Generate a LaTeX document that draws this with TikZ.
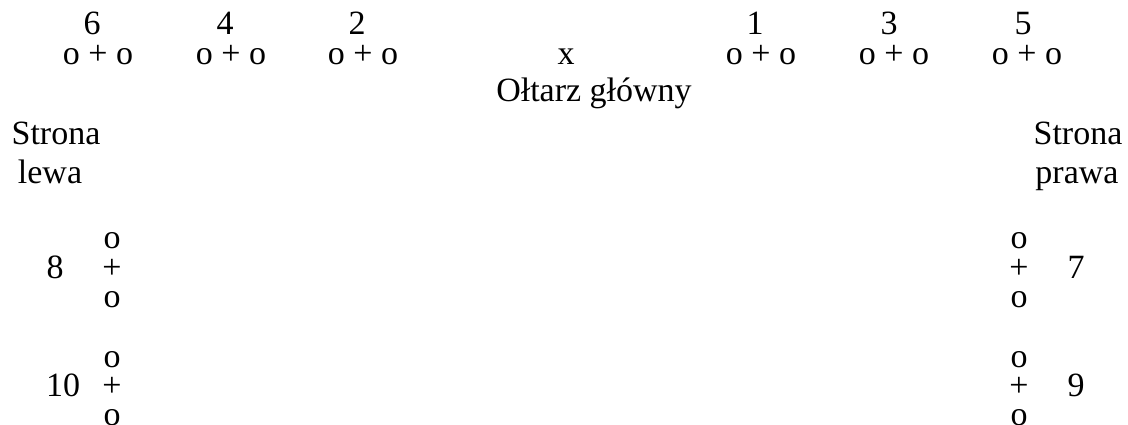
\documentclass[tikz,border=0pt]{standalone}
\usepackage{fontspec}
\setmainfont{Liberation Serif}
\begin{document}
\begin{tikzpicture}[x=1pt,y=-1pt,
  txt/.style={inner sep=0pt,outer sep=0pt,anchor=base,font=\fontsize{34}{40}\selectfont}]
\useasboundingbox (0,0) rectangle (1128,425);
% top row numbers
\node[txt] (n6) at (92,35) {6};
\node[txt] (n4) at (225,35) {4};
\node[txt] (n2) at (357,35) {2};
\node[txt] (n1) at (755,35) {1};
\node[txt] (n3) at (889,35) {3};
\node[txt] (n5) at (1023,35) {5};
% top row seats
\node[txt] (s6) at (98,65) {o + o};
\node[txt] (s4) at (231,65) {o + o};
\node[txt] (s2) at (363,65) {o + o};
\node[txt] (sx) at (566,65) {x};
\node[txt] (s1) at (761,65) {o + o};
\node[txt] (s3) at (894,65) {o + o};
\node[txt] (s5) at (1027,65) {o + o};
\node[txt] (altar) at (594,102) {Ołtarz główny};
% sides
\node[txt] (sl1) at (56,145) {Strona};
\node[txt] (sl2) at (50,184) {lewa};
\node[txt] (sr1) at (1078,145) {Strona};
\node[txt] (sr2) at (1077,184) {prawa};
% left column
\node[txt] (l8a) at (112,248) {o};
\node[txt] (l8b) at (112,278) {+};
\node[txt] (l8c) at (112,307) {o};
\node[txt] (n8) at (55,278) {8};
\node[txt] (l10a) at (112,367) {o};
\node[txt] (l10b) at (112,396) {+};
\node[txt] (l10c) at (112,425) {o};
\node[txt] (n10) at (63,396) {10};
% right column
\node[txt] (r7a) at (1019,248) {o};
\node[txt] (r7b) at (1019,278) {+};
\node[txt] (r7c) at (1019,307) {o};
\node[txt] (n7) at (1076,278) {7};
\node[txt] (r9a) at (1019,367) {o};
\node[txt] (r9b) at (1019,396) {+};
\node[txt] (r9c) at (1019,425) {o};
\node[txt] (n9) at (1076,396) {9};
\end{tikzpicture}
\end{document}
